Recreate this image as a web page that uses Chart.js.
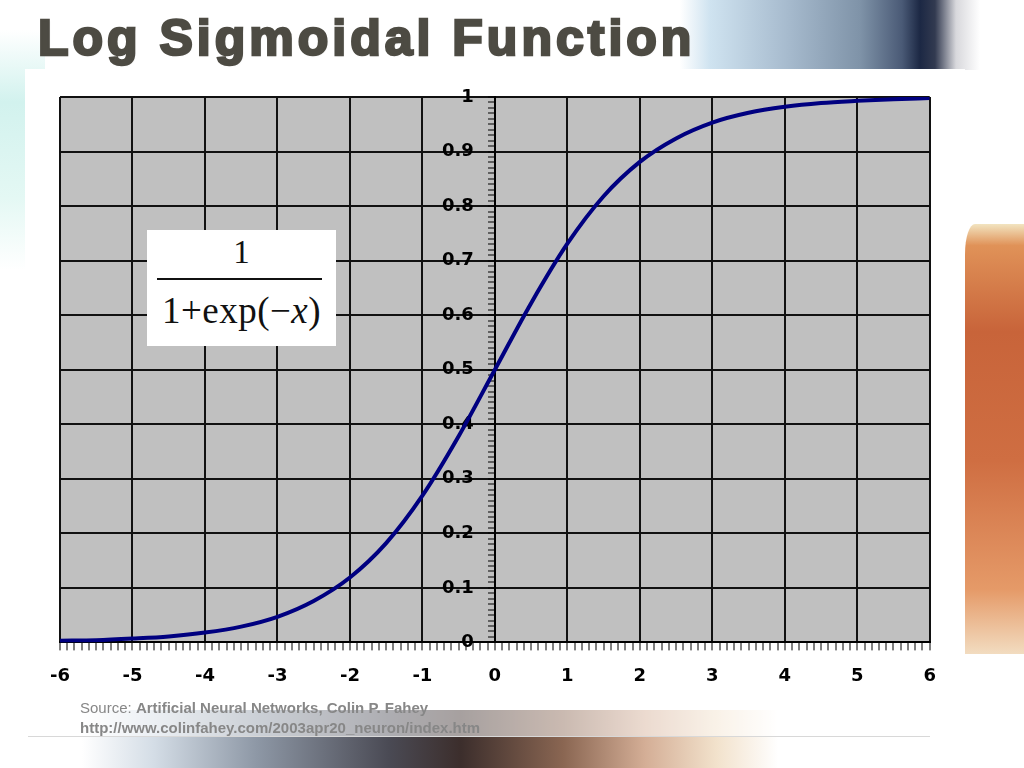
<!DOCTYPE html>
<html>
<head>
<meta charset="utf-8">
<script src="https://cdn.jsdelivr.net/npm/chart.js@4.4.0/dist/chart.umd.min.js"></script>
<style>
  html, body { margin: 0; padding: 0; }
  body {
    width: 1024px; height: 768px; position: relative; overflow: hidden;
    background: #fff; font-family: "Liberation Sans", Arial, sans-serif;
  }
  .blob { position: absolute; }
  #blobTop {
    left: 680px; top: 0; width: 300px; height: 70px;
    background: linear-gradient(to right, rgba(220,240,250,0) 0%, #cfe3f0 10%, #a8bccf 35%, #7f93a8 60%, #4a5a76 74%, #1c2844 80%, #323a50 85%, #d8d8dc 92%, #fff 100%);
  }
  #blobLeft {
    left: 0; top: 30px; width: 45px; height: 240px;
    background: linear-gradient(to bottom, rgba(200,240,235,0) 0%, #d2f2ee 30%, #e4f8f4 70%, rgba(255,255,255,0) 100%);
  }
  #blobRight {
    left: 965px; top: 224px; width: 59px; height: 430px; border-top-left-radius: 10px 30px;
    background: linear-gradient(to bottom, #f2e4c0 0%, #e09258 5%, #c8643a 25%, #cf6e42 55%, #e59a68 85%, #f2dcc0 100%);
  }
  #blobBottom {
    left: 0; top: 706px; width: 1024px; height: 62px;
    background: linear-gradient(to right, #fff 8%, #d4dde6 15%, #8e98a6 25%, #4a4a54 38%, #3c2e2c 45%, #8a6652 55%, #d4ae96 63%, #f2e2cc 70%, #fff 76%);
  }
  #panel {
    position: absolute; left: 25px; top: 69px; width: 940px; height: 641px; background: #fff;
  }
  #title {
    position: absolute; left: 38px; top: 9px; margin: 0;
    font-family: "Liberation Sans", Arial, sans-serif; font-weight: bold; font-size: 50px;
    color: #4d4b43; -webkit-text-stroke: 2.5px #4d4b43; letter-spacing: 4px;
    text-shadow: 1px 1px 2px rgba(0,0,0,0.08); white-space: nowrap;
  }
  #chartBox { position: absolute; left: 35px; top: 80px; width: 916px; height: 637px; }
  #formula {
    position: absolute; left: 147px; top: 230px; width: 189px; height: 116px; background: #fff;
    font-family: "Liberation Serif", "Times New Roman", serif; color: #111; text-align: center;
  }
  #formula .num { position: absolute; left: 0; right: 0; top: 2px; font-size: 33px; line-height: 40px; }
  #formula .bar { position: absolute; left: 10px; width: 165px; top: 48px; height: 1.5px; background: #111; }
  #formula .den { position: absolute; left: 0; right: 0; top: 59px; font-size: 37px; line-height: 44px; letter-spacing: 0.5px; }
  #source {
    position: absolute; left: 28px; top: 697px; width: 902px; height: 39px;
    background: rgba(255,255,255,0.55); border-bottom: 1px solid #d8d8d8;
  }
  #source p {
    margin: 0; position: absolute; left: 52px; font-size: 15px; line-height: 20px; color: #878787; white-space: nowrap;
  }
</style>
</head>
<body>
<div class="blob" id="blobTop"></div>
<div class="blob" id="blobLeft"></div>
<div class="blob" id="blobRight"></div>
<div class="blob" id="blobBottom"></div>
<div id="panel"></div>
<h1 id="title">Log Sigmoidal Function</h1>
<div id="chartBox"><canvas id="sigmoidChart"></canvas></div>
<div id="formula">
  <div class="num">1</div>
  <div class="bar"></div>
  <div class="den">1+exp(&minus;<i>x</i>)</div>
</div>
<div id="source">
  <p style="top:1px">Source: <b>Artificial Neural Networks, Colin P. Fahey</b></p>
  <p style="top:21px"><b>http://www.colinfahey.com/2003apr20_neuron/index.htm</b></p>
</div>

<script>
// curve values
const xValues = [-6, -5.5, -5, -4.5, -4, -3.5, -3, -2.5, -2, -1.5, -1, -0.5, 0,
                 0.5, 1, 1.5, 2, 2.5, 3, 3.5, 4, 4.5, 5, 5.5, 6];
const yValues = [0.003, 0.004, 0.007, 0.011, 0.018, 0.029, 0.047, 0.076, 0.119, 0.182, 0.269, 0.378, 0.5,
                 0.622, 0.731, 0.818, 0.881, 0.924, 0.953, 0.971, 0.982, 0.989, 0.993, 0.996, 0.998];

const xTickLabels = ['-6', '-5', '-4', '-3', '-2', '-1', '0', '1', '2', '3', '4', '5', '6'];
const yTickLabels = ['0', '0.1', '0.2', '0.3', '0.4', '0.5', '0.6', '0.7', '0.8', '0.9', '1'];

const curveColor = '#000080';
const plotGray = '#c0c0c0';
const gridColor = '#111111';

// helpers: which ticks are the big ones
function isMajorX(v) { return Math.abs(v - Math.round(v)) < 1e-6; }
function isMajorY(v) { return Math.round(v * 100) % 10 === 0; }

// fill the plot area grey before anything else is drawn
const plotBackground = {
  id: 'plotBackground',
  beforeDraw(chart) {
    const { ctx, chartArea: a } = chart;
    ctx.save();
    ctx.fillStyle = plotGray;
    ctx.fillRect(a.left, a.top, a.right - a.left, a.bottom - a.top);
    ctx.restore();
  }
};

const tickFont = { family: '"DejaVu Sans", sans-serif', weight: 'bold', size: 18 };

new Chart(document.getElementById('sigmoidChart'), {
  type: 'line',
  data: {
    datasets: [{
      data: xValues.map((x, i) => ({ x: x, y: yValues[i] })),
      yAxisID: 'y',
      borderColor: curveColor,
      borderWidth: 4,
      pointRadius: 0,
      cubicInterpolationMode: 'monotone',
      fill: false
    }]
  },
  options: {
    responsive: true,
    maintainAspectRatio: false,
    animation: false,
    layout: { padding: { left: 18, right: 20, top: 17, bottom: 15 } },
    plugins: { legend: { display: false }, tooltip: { enabled: false } },
    scales: {
      x: {
        type: 'linear',
        min: -6, max: 6,
        border: { color: '#000', width: 2 },
        grid: {
          color: ctx => (ctx.tick && isMajorX(ctx.tick.value)) ? gridColor : 'rgba(0,0,0,0)',
          lineWidth: 2,
          tickColor: '#000',
          tickWidth: 1,
          tickLength: 8
        },
        ticks: {
          stepSize: 0.1,
          maxTicksLimit: 200,
          autoSkip: false,
          maxRotation: 0,
          padding: 15,
          color: '#000',
          font: { family: '"DejaVu Sans", sans-serif', weight: 'bold', size: 18 },
          callback: v => isMajorX(v) ? xTickLabels[Math.round(v) + 6] : ''
        }
      },
      // axis line, grid and small ticks sitting at x = 0
      y: {
        type: 'linear',
        min: 0, max: 1,
        position: { x: 0 },
        border: { color: '#000', width: 2 },
        grid: {
          color: ctx => (ctx.tick && isMajorY(ctx.tick.value)) ? gridColor : 'rgba(0,0,0,0)',
          lineWidth: 2,
          tickColor: '#000',
          tickWidth: 1,
          tickLength: 6
        },
        ticks: {
          stepSize: 0.01,
          maxTicksLimit: 200,
          autoSkip: false,
          callback: () => ''
        }
      },
      // labels only, set a little left of the axis
      yLabels: {
        type: 'linear',
        axis: 'y',
        min: 0, max: 1,
        position: { x: -0.29 },
        border: { display: false },
        grid: { display: false },
        ticks: {
          stepSize: 0.1,
          color: '#000',
          font: tickFont,
          callback: v => yTickLabels[Math.round(v * 10)]
        }
      }
    }
  },
  plugins: [plotBackground]
});
</script>
</body>
</html>
